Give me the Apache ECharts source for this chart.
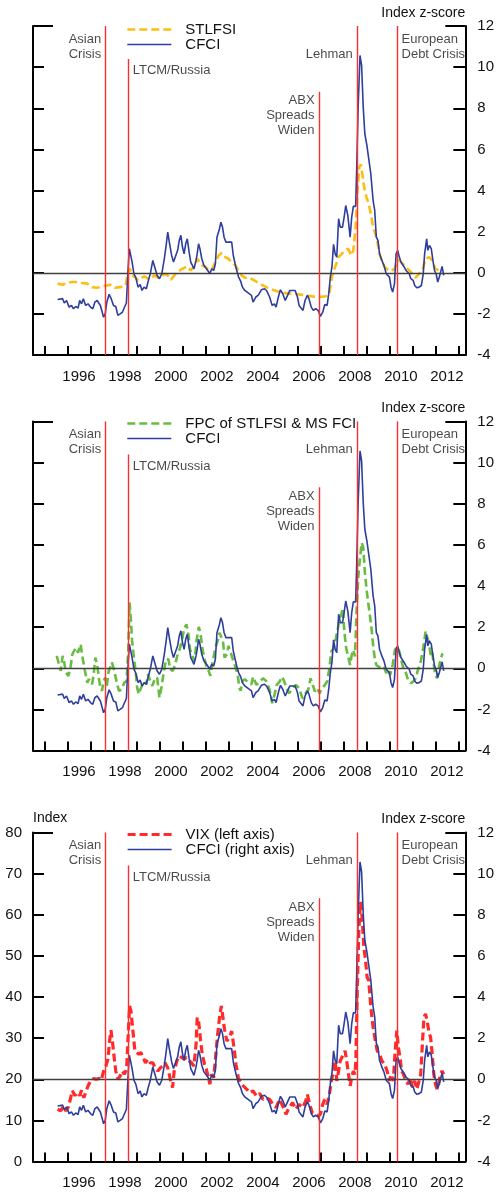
<!DOCTYPE html>
<html><head><meta charset="utf-8">
<script src="https://cdn.jsdelivr.net/npm/echarts@6/dist/echarts.min.js"></script>
<style>html,body{margin:0;padding:0;background:#fff}#c{width:497px;height:1192px}</style>
</head><body><div id="c"></div>
<script>
// ---------- data ----------
const tickYears = [1995,1996,1997,1998,1999,2000,2001,2002,2003,2004,2005,2006,2007,2008,2009,2010,2011,2012,2013];
const labelYears = [1996,1998,2000,2002,2004,2006,2008,2010,2012];
const zTicks = [-4, 12];          // z-score axis range
const vixRange = [0, 80];         // VIX axis range

const eventNames = ['Asian\nCrisis','LTCM/Russia','ABX\nSpreads\nWiden','Lehman','European\nDebt Crisis'];
const eventYears = [1997.66, 1998.64, 2006.94, 2008.60, 2010.33];
const eventLineTops = [12, 10.4, 8.8, 12, 12];
const eventLabelLevels = [11.0, 9.83, 7.63, 10.62, 11.0];
const eventLabelSides = ['left','right','left','left','right'];

const cfci = [
[1995.57,-1.30],[1995.79,-1.26],[1995.86,-1.47],[1995.96,-1.35],[1996.07,-1.67],[1996.17,-1.59],[1996.26,-1.75],[1996.36,-1.64],[1996.46,-1.72],[1996.53,-1.35],
[1996.61,-1.51],[1996.69,-1.26],[1996.79,-1.59],[1996.89,-1.51],[1997.00,-1.67],[1997.10,-1.75],[1997.19,-1.43],[1997.29,-1.35],[1997.43,-1.59],[1997.57,-2.16],
[1997.64,-2.00],[1997.71,-1.43],[1997.81,-1.05],[1997.90,-1.26],[1998.00,-1.59],[1998.10,-1.64],[1998.19,-2.07],[1998.29,-2.00],[1998.39,-1.91],[1998.47,-1.70],
[1998.56,-1.47],[1998.64,0.28],[1998.69,1.17],[1998.76,1.09],[1998.81,0.52],[1998.89,-0.05],[1998.97,-0.24],[1999.07,-0.70],[1999.16,-0.57],[1999.24,-0.86],
[1999.33,-0.70],[1999.43,-0.78],[1999.50,-0.45],[1999.60,-0.05],[1999.71,0.60],[1999.79,0.52],[1999.90,-0.13],[2000.00,-0.29],[2000.10,-0.05],[2000.21,0.68],
[2000.29,1.33],[2000.36,1.98],[2000.44,1.41],[2000.53,0.84],[2000.61,0.52],[2000.71,0.84],[2000.79,1.09],[2000.86,1.57],[2000.93,1.82],[2001.00,1.25],
[2001.07,0.92],[2001.14,1.41],[2001.21,1.65],[2001.29,1.00],[2001.36,0.52],[2001.43,0.36],[2001.50,0.19],[2001.59,0.60],[2001.64,0.92],[2001.70,1.41],
[2001.76,1.17],[2001.84,0.68],[2001.93,0.36],[2002.01,0.28],[2002.10,0.11],[2002.19,-0.05],[2002.27,0.19],[2002.36,0.11],[2002.43,0.44],[2002.50,1.73],
[2002.57,1.82],[2002.61,2.14],[2002.67,2.46],[2002.74,2.22],[2002.81,1.73],[2002.89,1.49],[2003.00,1.49],[2003.14,1.49],[2003.21,0.84],[2003.29,0.44],
[2003.36,0.11],[2003.44,-0.21],[2003.53,-0.41],[2003.61,-0.70],[2003.71,-0.86],[2003.79,-0.78],[2003.90,-1.02],[2004.00,-1.10],
[2004.07,-1.43],[2004.19,-1.18],[2004.29,-1.10],[2004.43,-0.83],[2004.57,-0.78],[2004.67,-0.89],[2004.79,-1.18],[2004.90,-1.59],[2005.00,-1.51],[2005.07,-1.67],
[2005.17,-1.18],[2005.26,-0.83],[2005.36,-1.02],[2005.47,-1.35],[2005.57,-1.10],[2005.67,-0.86],[2005.79,-0.86],[2005.90,-0.86],[2006.00,-1.18],[2006.07,-1.59],
[2006.14,-1.67],[2006.24,-1.83],[2006.33,-1.35],[2006.43,-1.10],[2006.50,-1.26],[2006.60,-1.67],[2006.69,-1.83],[2006.79,-1.75],[2006.90,-1.83],[2007.00,-2.12],
[2007.10,-1.91],[2007.19,-1.54],[2007.29,-1.59],[2007.36,-1.02],[2007.43,-0.21],[2007.50,0.28],[2007.57,1.38],[2007.64,0.92],[2007.71,0.76],[2007.79,2.63],
[2007.86,2.22],[2007.96,2.22],[2008.03,2.71],[2008.10,3.27],[2008.19,2.79],[2008.29,1.73],[2008.36,2.71],[2008.43,3.23],[2008.53,3.23],[2008.57,4.81],
[2008.64,8.06],[2008.72,10.57],[2008.79,10.08],[2008.86,8.06],[2008.93,6.76],[2009.02,6.19],[2009.10,6.11],[2009.19,4.81],[2009.29,3.52],[2009.36,3.03],
[2009.43,1.73],[2009.50,1.57],[2009.57,0.92],[2009.67,0.60],[2009.76,0.36],[2009.86,-0.05],[2009.93,0.03],[2010.00,-0.21],[2010.07,-0.70],[2010.14,-0.94],
[2010.22,-0.53],[2010.29,0.92],[2010.36,1.09],[2010.43,0.76],[2010.50,0.52],[2010.57,0.60],[2010.64,0.28],[2010.72,0.11],[2010.79,0.19],[2010.86,-0.05],
[2010.93,-0.29],[2011.03,-0.37],[2011.10,-0.62],[2011.19,-0.73],[2011.29,-0.70],[2011.39,-0.62],[2011.47,-0.05],[2011.53,0.92],[2011.62,1.65],[2011.67,1.09],
[2011.74,1.33],[2011.82,1.17],[2011.89,0.60],[2011.96,0.11],[2012.03,-0.05],[2012.10,-0.45],[2012.17,-0.21],[2012.24,-0.13],[2012.29,0.31],[2012.36,-0.13]
];

const stlfsi = [
[1995.57,-0.53],[1995.79,-0.58],[1996.00,-0.49],[1996.21,-0.45],[1996.43,-0.45],[1996.64,-0.50],[1996.86,-0.53],[1997.07,-0.70],[1997.29,-0.73],[1997.50,-0.66],
[1997.71,-0.62],[1997.86,-0.58],[1998.07,-0.73],[1998.29,-0.70],[1998.53,-0.62],[1998.61,-0.05],[1998.71,0.20],[1998.83,-0.13],[1998.93,-0.21],[1999.07,-0.37],
[1999.21,-0.24],[1999.36,-0.18],[1999.50,-0.29],[1999.64,-0.24],[1999.79,-0.13],[1999.93,-0.24],[2000.07,-0.21],[2000.21,-0.05],[2000.36,-0.13],[2000.50,-0.34],
[2000.64,-0.13],[2000.79,0.03],[2000.93,0.15],[2001.07,0.24],[2001.21,0.31],[2001.36,0.11],[2001.50,0.28],[2001.64,0.68],[2001.71,0.60],[2001.86,0.36],
[2002.00,0.28],[2002.14,0.11],[2002.29,0.19],[2002.43,0.52],[2002.57,0.84],[2002.71,0.96],[2002.86,0.76],[2003.00,0.68],[2003.14,0.52],[2003.29,0.36],
[2003.43,0.11],[2003.57,-0.13],[2003.71,-0.24],[2003.90,-0.24],
[2004.07,-0.34],[2004.36,-0.53],[2004.64,-0.70],[2004.93,-0.83],[2005.22,-0.94],[2005.50,-0.99],[2005.79,-1.02],[2006.07,-1.05],[2006.36,-1.10],[2006.64,-1.15],
[2006.93,-1.18],[2007.22,-1.15],[2007.39,-1.02],[2007.47,-0.37],[2007.57,0.11],[2007.64,0.28],[2007.79,0.76],[2007.93,0.92],[2008.07,1.09],[2008.21,1.17],
[2008.33,0.84],[2008.43,1.09],[2008.53,2.22],[2008.61,4.00],[2008.69,5.14],[2008.76,5.27],[2008.82,4.81],[2008.90,4.17],[2009.00,3.68],[2009.10,3.35],
[2009.19,2.87],[2009.29,2.22],[2009.36,1.98],[2009.47,1.57],[2009.57,0.92],[2009.67,0.60],[2009.79,0.28],[2009.93,0.15],[2010.07,0.08],[2010.22,0.19],
[2010.33,0.52],[2010.43,0.60],[2010.57,0.44],[2010.72,0.28],[2010.86,0.11],[2011.00,-0.05],[2011.14,-0.24],[2011.29,-0.05],[2011.43,0.11],[2011.57,0.68],
[2011.72,0.76],[2011.86,0.60],[2012.00,0.19],[2012.14,0.11],[2012.29,0.11]
];

const fpc = [
[1995.53,0.60],[1995.61,0.28],[1995.71,-0.13],[1995.79,0.60],[1995.86,0.28],[1995.93,-0.21],[1996.04,-0.37],[1996.14,0.11],[1996.21,0.68],[1996.36,1.00],
[1996.46,0.76],[1996.57,1.17],[1996.64,0.60],[1996.76,-0.13],[1996.86,-0.70],[1996.93,-0.53],[1997.00,-0.45],[1997.07,-0.78],[1997.14,-0.29],[1997.21,0.52],
[1997.29,0.19],[1997.36,-0.45],[1997.43,-0.94],[1997.50,-1.10],[1997.57,-0.62],[1997.64,-0.45],[1997.71,-0.86],[1997.79,-0.13],[1997.86,0.03],[1997.93,0.28],
[1998.04,-0.13],[1998.14,-0.70],[1998.24,-1.10],[1998.36,-1.02],[1998.47,-0.70],[1998.57,-0.62],[1998.64,0.84],[1998.70,3.19],[1998.76,2.30],[1998.81,1.33],
[1998.89,0.52],[1998.96,-0.13],[1999.03,-0.94],[1999.10,-1.26],[1999.17,-1.02],[1999.24,-0.86],[1999.33,-0.62],[1999.43,-0.78],[1999.50,-0.29],[1999.60,-0.62],
[1999.69,-0.86],[1999.79,-0.53],[1999.90,-0.45],[2000.00,-1.43],[2000.10,-0.86],[2000.19,-0.13],[2000.29,0.44],[2000.39,0.44],[2000.47,-0.05],[2000.57,-0.13],
[2000.67,0.11],[2000.79,0.68],[2000.90,1.00],[2001.00,1.49],[2001.07,1.90],[2001.17,2.14],[2001.26,1.65],[2001.33,0.92],[2001.43,0.60],[2001.53,0.36],
[2001.61,1.33],[2001.71,2.01],[2001.79,1.65],[2001.87,0.92],[2001.96,0.44],[2002.04,0.11],[2002.14,-0.13],[2002.21,-0.37],[2002.31,0.28],[2002.43,1.00],
[2002.53,1.33],[2002.61,1.73],[2002.69,1.82],[2002.76,1.33],[2002.83,0.52],[2002.93,0.68],[2003.00,1.09],[2003.10,0.76],[2003.21,0.36],[2003.31,0.03],
[2003.40,-0.29],[2003.47,-0.94],[2003.53,-1.10],[2003.61,-0.62],[2003.71,-0.53],[2003.86,-0.70],[2004.00,-0.78],
[2004.07,-0.41],[2004.22,-0.81],[2004.36,-0.65],[2004.50,-0.49],[2004.64,-0.62],[2004.79,-1.05],[2004.90,-1.70],[2005.00,-1.30],[2005.10,-0.81],[2005.22,-0.65],
[2005.33,-0.41],[2005.43,-0.65],[2005.53,-0.97],[2005.64,-1.22],[2005.79,-0.97],[2005.93,-0.81],[2006.07,-0.97],[2006.22,-1.46],[2006.36,-1.22],[2006.47,-1.05],
[2006.57,-0.49],[2006.64,-0.73],[2006.76,-1.13],[2006.86,-0.97],[2006.96,-1.22],[2007.07,-0.97],[2007.19,-0.81],[2007.29,-0.65],[2007.39,0.00],[2007.47,0.81],
[2007.57,0.97],[2007.67,1.46],[2007.76,1.94],[2007.83,2.43],[2007.90,2.59],[2007.97,2.92],[2008.04,1.78],[2008.12,0.97],[2008.22,0.49],[2008.29,0.16],
[2008.36,0.65],[2008.43,0.89],[2008.50,0.57],[2008.57,2.76],[2008.64,4.38],[2008.72,5.35],[2008.79,6.10],[2008.86,5.90],[2008.93,4.70],[2009.00,3.89],
[2009.07,3.24],[2009.14,2.67],[2009.22,1.94],[2009.29,1.13],[2009.36,0.49],[2009.43,0.16],[2009.53,0.08],[2009.64,0.00],[2009.76,0.08],[2009.86,-0.24],
[2009.93,-0.08],[2010.03,-0.32],[2010.14,0.16],[2010.24,0.89],[2010.33,1.05],[2010.43,0.81],[2010.53,0.32],[2010.61,0.00],[2010.72,-0.24],[2010.81,-0.57],
[2010.93,-0.73],[2011.03,-0.65],[2011.14,-0.49],[2011.24,-0.08],[2011.36,0.32],[2011.47,0.97],[2011.57,1.78],[2011.64,1.86],[2011.72,1.22],[2011.79,0.65],
[2011.86,0.81],[2011.93,0.16],[2012.00,-0.32],[2012.07,-0.49],[2012.14,0.00],[2012.24,0.49],[2012.31,0.73]
];

const vix = [
[1995.57,12.7],[1995.71,12.3],[1995.81,13.5],[1995.93,12.3],[1996.04,13.3],[1996.14,15.5],[1996.21,17.2],[1996.33,16.0],[1996.43,16.8],[1996.53,16.0],
[1996.61,17.3],[1996.71,15.5],[1996.81,17.2],[1996.93,18.8],[1997.04,19.8],[1997.14,20.2],[1997.24,20.0],[1997.36,20.2],[1997.47,19.8],[1997.57,22.0],
[1997.67,23.2],[1997.76,24.9],[1997.83,29.3],[1997.89,31.9],[1997.96,28.9],[1998.03,25.3],[1998.10,22.0],[1998.19,20.0],[1998.29,20.8],[1998.39,22.0],
[1998.47,21.2],[1998.57,22.4],[1998.64,30.9],[1998.70,37.8],[1998.76,36.6],[1998.83,32.6],[1998.93,26.9],[1999.00,27.3],[1999.10,26.1],[1999.19,26.5],
[1999.29,25.3],[1999.39,24.0],[1999.50,24.9],[1999.60,24.0],[1999.71,24.0],[1999.81,22.8],[1999.93,22.0],[2000.04,22.8],[2000.14,23.2],[2000.24,24.0],
[2000.36,22.8],[2000.47,20.0],[2000.57,18.0],[2000.64,22.0],[2000.76,24.5],[2000.86,25.7],[2000.96,25.3],[2001.07,24.9],[2001.17,25.3],[2001.29,24.5],
[2001.39,24.0],[2001.50,23.2],[2001.59,28.5],[2001.64,35.0],[2001.70,34.2],[2001.79,29.3],[2001.86,26.1],[2001.96,23.6],[2002.04,22.4],[2002.11,22.4],
[2002.19,18.8],[2002.27,21.2],[2002.36,20.4],[2002.44,25.3],[2002.53,30.9],[2002.61,35.0],[2002.69,37.8],[2002.76,35.0],[2002.83,32.1],[2002.93,29.3],
[2003.04,30.1],[2003.14,31.7],[2003.24,27.7],[2003.33,23.6],[2003.43,20.4],[2003.53,19.2],[2003.64,18.4],[2003.79,17.6],[2003.93,16.7],
[2004.07,17.2],[2004.22,15.9],[2004.36,16.5],[2004.50,15.1],[2004.64,15.5],[2004.79,15.1],[2004.93,13.9],[2005.07,13.1],[2005.22,15.1],[2005.36,13.5],
[2005.50,11.5],[2005.64,13.1],[2005.79,14.3],[2005.93,12.7],[2006.07,13.9],[2006.22,13.1],[2006.36,14.7],[2006.43,16.3],[2006.53,13.9],[2006.64,11.9],
[2006.79,11.6],[2006.90,11.1],[2007.00,11.5],[2007.10,13.9],[2007.19,15.1],[2007.29,13.9],[2007.39,16.3],[2007.47,19.6],[2007.57,22.0],[2007.64,24.5],
[2007.71,19.6],[2007.79,22.0],[2007.86,24.5],[2007.93,25.3],[2008.00,26.1],[2008.07,26.9],[2008.14,24.5],[2008.22,21.2],[2008.29,18.4],[2008.36,20.4],
[2008.43,22.0],[2008.50,21.2],[2008.54,24.5],[2008.60,41.5],[2008.67,56.2],[2008.74,63.1],[2008.79,61.1],[2008.89,52.1],[2008.96,48.9],[2009.03,44.8],
[2009.10,44.0],[2009.19,37.5],[2009.29,32.6],[2009.39,29.3],[2009.47,26.9],[2009.57,26.1],[2009.67,24.5],[2009.79,23.7],[2009.90,22.0],[2010.00,19.6],
[2010.07,21.2],[2010.17,19.6],[2010.24,26.1],[2010.32,31.8],[2010.39,27.7],[2010.46,25.3],[2010.53,22.0],[2010.61,21.2],[2010.72,19.6],[2010.81,18.8],
[2010.90,20.4],[2011.00,18.0],[2011.10,19.6],[2011.19,17.6],[2011.29,19.6],[2011.36,21.2],[2011.44,29.3],[2011.50,35.0],[2011.57,35.9],[2011.64,34.2],
[2011.72,31.4],[2011.79,30.2],[2011.86,26.1],[2011.93,21.2],[2012.00,18.8],[2012.07,17.6],[2012.14,18.8],[2012.21,21.2],[2012.29,22.0],[2012.36,21.2]
];

// ---------- styling / layout ----------
const FONT = '"Liberation Sans", Arial, Helvetica, sans-serif';
const TXT = '#111';
const BLUE = '#2E3E9C';
const RED_LINE = '#FF2E2E';
const panels = [
  {top: 26,    legendTop: 22,  dashName: 'STLFSI', dashData: stlfsi, dashColor: '#FDBE12', dashWidth: 2.6, cfciName: 'CFCI', vix: false},
  {top: 421.5, legendTop: 416, dashName: 'FPC of STLFSI & MS FCI', dashData: fpc, dashColor: '#69BC42', dashWidth: 2.6, cfciName: 'CFCI', vix: false},
  {top: 832.5, legendTop: 827, dashName: 'VIX (left axis)', dashData: vix, dashColor: '#FF2A2A', dashWidth: 3.2, cfciName: 'CFCI (right axis)', vix: true}
];
const H = 329;

const option = {animation: false, textStyle: {fontFamily: FONT}, grid: [], xAxis: [], yAxis: [], series: [], legend: []};
const blackLine = {color: '#000', width: 2};
const clear = 'rgba(0,0,0,0)';

panels.forEach((p, i) => {
  option.grid.push({left: 33, right: 25, top: p.top, height: H});
  option.xAxis.push({
    gridIndex: i, type: 'value', min: 1994.5, max: 2013.3,
    axisLine: {show: true, onZero: false, lineStyle: blackLine},
    axisTick: {show: true, inside: true, length: 9, lineStyle: blackLine, customValues: tickYears},
    axisLabel: {customValues: labelYears.map(y => y + 0.5), formatter: v => String(Math.floor(v)),
                fontSize: 15, color: TXT, margin: 14, fontFamily: FONT},
    splitLine: {show: false}
  });
  const lmin = p.vix ? vixRange[0] : zTicks[0];
  const lmax = p.vix ? vixRange[1] : zTicks[1];
  const base = i * 4;
  // left main axis
  option.yAxis.push({
    gridIndex: i, type: 'value', position: 'left', min: lmin, max: lmax, interval: p.vix ? 10 : 2,
    axisLine: {show: true, onZero: false, lineStyle: blackLine},
    axisTick: {show: true, inside: true, length: 11, lineStyle: blackLine},
    axisLabel: {show: p.vix, fontSize: 15, color: TXT, margin: 11, fontFamily: FONT},
    splitLine: {show: false},
    name: p.vix ? 'Index' : '', nameLocation: 'end', nameGap: 7,
    nameTextStyle: {align: 'left', fontSize: 14, color: TXT, fontFamily: FONT}
  });
  // right main axis (z-score)
  option.yAxis.push({
    gridIndex: i, type: 'value', position: 'right', min: zTicks[0], max: zTicks[1], interval: 2,
    axisLine: {show: true, onZero: false, lineStyle: blackLine},
    axisTick: {show: true, inside: true, length: 12, lineStyle: blackLine},
    axisLabel: {show: true, fontSize: 15, color: TXT, margin: 12, fontFamily: FONT},
    splitLine: {show: false},
    name: 'Index z-score', nameLocation: 'end', nameGap: 6,
    nameTextStyle: {align: 'right', fontSize: 14, color: TXT, fontFamily: FONT}
  });
  // top caps
  option.yAxis.push({
    gridIndex: i, type: 'value', position: 'left', min: lmin, max: lmax,
    axisLine: {show: false}, axisLabel: {show: false}, splitLine: {show: false},
    axisTick: {show: true, inside: true, length: 20, lineStyle: blackLine, customValues: [lmax]}
  });
  option.yAxis.push({
    gridIndex: i, type: 'value', position: 'right', min: zTicks[0], max: zTicks[1],
    axisLine: {show: false}, axisLabel: {show: false}, splitLine: {show: false},
    axisTick: {show: true, inside: true, length: 20, lineStyle: blackLine, customValues: [zTicks[1]]}
  });

  // reference lines (zero line + event lines)
  const ml = [{yAxis: 0, lineStyle: {color: '#404040', width: 1.3, type: 'solid'}}];
  eventYears.forEach((y, k) => {
    ml.push([{coord: [y, zTicks[0]], lineStyle: {color: RED_LINE, width: 1.4, type: 'solid'}}, {coord: [y, eventLineTops[k]]}]);
  });
  option.series.push({
    type: 'line', xAxisIndex: i, yAxisIndex: base + 1, data: [], z: 1, silent: true,
    itemStyle: {color: RED_LINE},
    markLine: {silent: true, symbol: ['none', 'none'], label: {show: false}, animation: false,
               lineStyle: {color: RED_LINE, width: 1.4, type: 'solid', opacity: 1}, data: ml}
  });
  // dashed series
  option.series.push({
    name: p.dashName, type: 'line', xAxisIndex: i, yAxisIndex: base, data: p.dashData,
    symbol: 'none', z: 2, silent: true,
    lineStyle: {color: p.dashColor, width: p.dashWidth, type: [8, 4]}, itemStyle: {color: clear}
  });
  // CFCI
  option.series.push({
    name: p.cfciName, type: 'line', xAxisIndex: i, yAxisIndex: base + 1, data: cfci,
    symbol: 'none', z: 3, silent: true,
    lineStyle: {color: BLUE, width: 1.6}, itemStyle: {color: clear}
  });
  // event labels
  option.series.push({
    type: 'scatter', xAxisIndex: i, yAxisIndex: base + 1, symbolSize: 1, z: 4, silent: true,
    itemStyle: {color: clear},
    label: {show: true, formatter: q => q.name, distance: 4, fontSize: 13, lineHeight: 15, color: '#1a1a1a', fontFamily: FONT},
    data: eventNames.map((n, k) => ({name: n, value: [eventYears[k], eventLabelLevels[k]], label: {position: eventLabelSides[k]}}))
  });
  option.legend.push({
    orient: 'vertical', left: 126, top: p.legendTop, padding: 0, itemWidth: 44, itemHeight: 10, itemGap: 0,
    selectedMode: false, data: [p.dashName, p.cfciName],
    itemStyle: {color: clear, borderColor: clear, borderWidth: 0, opacity: 0},
    lineStyle: {width: 'inherit'},
    textStyle: {fontSize: 15, lineHeight: 15, color: TXT, fontFamily: FONT, padding: [0, 0, 0, 9]}
  });
});

const chart = echarts.init(document.getElementById('c'), null, {renderer: 'canvas'});
chart.setOption(option);
</script></body></html>
